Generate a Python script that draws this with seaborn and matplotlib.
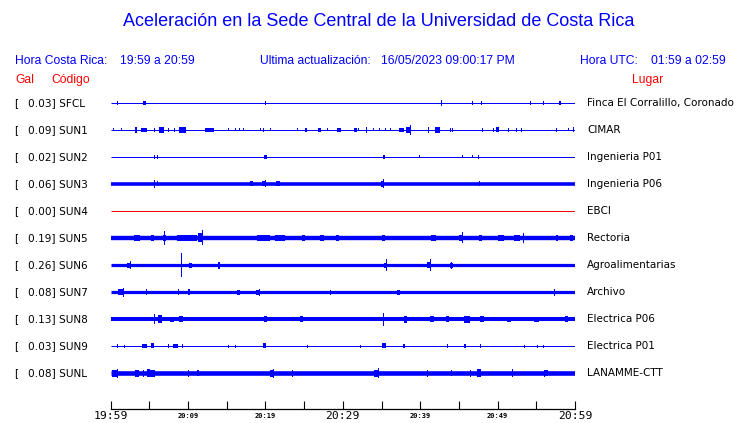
import numpy as np
import pandas as pd
import matplotlib
matplotlib.use("Agg")
import matplotlib.pyplot as plt
import seaborn as sns

# ---------------- data ----------------
codes = ["SFCL", "SUN1", "SUN2", "SUN3", "SUN4", "SUN5", "SUN6", "SUN7", "SUN8", "SUN9", "SUNL"]
gal = [0.03, 0.09, 0.02, 0.06, 0.00, 0.19, 0.26, 0.08, 0.13, 0.03, 0.08]
places = ["Finca El Corralillo, Coronado", "CIMAR", "Ingenieria P01", "Ingenieria P06", "EBCI",
          "Rectoria", "Agroalimentarias", "Archivo", "Electrica P06", "Electrica P01", "LANAMME-CTT"]
trace_colors = ["#0000ff"] * 4 + ["#ff0000"] + ["#0000ff"] * 6

# continuous noise band half-width (pixels) per station
band = [0.5, 0.5, 0.5, 1.8, 0.5, 2.2, 1.6, 1.6, 2.0, 0.5, 2.3]

# bursts: (minute after 19:59, half amplitude in px, duration in minutes; 0 = single spike)
ev_SFCL = [(0.9, 2, 0), (4.4, 2, 0.4), (20.0, 2, 0), (42.7, 3, 0), (46.8, 2, 0), (47.9, 2, 0.2),
           (54.3, 2, 0), (55.9, 2, 0), (58.1, 2, 0.3)]
ev_SUN1 = [(0.3, 1.5, 0), (1.4, 1.5, 0), (3.3, 3, 0.3), (4.3, 2, 0.8), (5.7, 2, 0), (6.6, 3, 0.6),
           (7.5, 2, 0), (8.2, 2, 0), (9.0, 2, 0), (9.3, 3, 0.9), (12.8, 2, 1.2), (15.2, 1.5, 0),
           (16.1, 1.5, 0), (16.6, 1.5, 0), (17.2, 1.5, 0), (19.3, 1.5, 0), (19.8, 2, 0), (20.6, 1.5, 0),
           (24.1, 1.5, 0), (25.2, 2, 0.3), (27.0, 2, 0.3), (28.0, 1.5, 0), (29.5, 2, 0.5), (31.6, 2, 0.4),
           (32.0, 1.5, 0), (33.1, 3, 0), (34.0, 1.5, 0), (34.8, 1.5, 0), (35.5, 1.5, 0), (36.1, 1.5, 0),
           (37.6, 2, 0.6), (38.7, 5, 0), (38.5, 3, 0.7), (41.1, 3, 0), (42.2, 3, 0.7), (43.9, 2, 0),
           (44.2, 2, 0), (48.0, 2, 0), (49.5, 2, 0), (50.0, 2.5, 0.4), (51.4, 2, 0), (52.5, 2, 0),
           (53.1, 2, 0), (57.6, 2, 0), (59.1, 1.5, 0), (59.8, 2.5, 0)]
ev_SUN2 = [(5.7, 2, 0), (6.1, 2, 0), (20.0, 2, 0.3), (35.3, 2, 0.3), (39.9, 1.5, 0), (45.5, 1.5, 0),
           (46.7, 1.5, 0), (47.5, 2, 0)]
ev_SUN3 = [(5.6, 4, 0), (6.1, 2.5, 0), (18.2, 2.5, 0.5), (20.0, 3.5, 0), (19.8, 2.5, 0.4),
           (21.6, 2.5, 0.5), (35.3, 4.5, 0), (35.1, 3, 0.4), (47.7, 2.5, 0)]
ev_SUN4 = []
ev_SUN5 = [(3.4, 3.2, 0.8), (5.4, 3.2, 0.4), (7.0, 7, 0), (6.9, 3.2, 0.4), (9.9, 3.2, 2.6),
           (11.8, 7.5, 0), (11.6, 4.5, 0.6), (19.8, 3.2, 1.7), (21.9, 3, 1.3), (24.9, 3, 0.3),
           (27.3, 3.2, 0.4), (29.3, 3, 0.3), (35.3, 3, 0.4), (41.7, 3.2, 0.6), (45.5, 5.5, 0),
           (45.3, 3.2, 0.5), (47.8, 3.2, 0.3), (50.4, 3.2, 0.8), (53.3, 5, 0), (52.5, 3.2, 0.8),
           (57.7, 3, 0.3), (59.6, 3, 0.4)]
ev_SUN6 = [(2.6, 4, 0), (2.4, 2.5, 0.5), (9.2, 11.5, 0), (10.3, 2.5, 0.3), (14.0, 3.5, 0.3),
           (35.7, 6, 0), (35.5, 2.5, 0.4), (41.3, 6, 0), (41.1, 3, 0.5), (44.1, 3.5, 0), (44.0, 2.5, 0.4)]
ev_SUN7 = [(1.7, 4.5, 0), (1.3, 3, 0.8), (4.6, 3, 0), (8.8, 3, 0), (10.1, 3, 0.3), (16.5, 2.5, 0.4),
           (19.2, 3.5, 0), (19.0, 2.5, 0.5), (28.4, 2.5, 0), (37.2, 2.5, 0.3), (57.3, 3.5, 0)]
ev_SUN8 = [(5.6, 5, 0), (6.4, 4, 0.5), (7.9, 2.5, 0.6), (9.1, 3, 0.6), (20.0, 3, 0.4), (24.7, 3, 0.4),
           (35.2, 6.5, 0), (38.1, 3.5, 0.3), (41.5, 3, 0.6), (43.5, 3, 0.4), (46.0, 3.5, 0.8),
           (48.0, 3, 0.5), (51.5, 2.5, 0.5), (55.0, 2.5, 0.6), (58.9, 3, 0.5)]
ev_SUN9 = [(0.9, 2, 0), (1.8, 1.5, 0), (4.4, 2, 0.6), (5.4, 2.5, 0.5), (7.5, 2, 0), (8.4, 2, 0.6),
           (9.3, 2, 0), (15.2, 1.5, 0), (16.1, 1.5, 0), (19.9, 2.5, 0.4), (25.4, 1.5, 0), (32.3, 1.5, 0),
           (35.3, 2.5, 0.5), (37.9, 2, 0.2), (43.5, 2, 0), (45.8, 2, 0.3), (47.8, 2, 0), (53.5, 1.5, 0),
           (55.2, 1.5, 0), (55.9, 1.5, 0)]
ev_SUNL = [(0.9, 4.5, 0), (0.6, 3.5, 0.8), (3.4, 3.5, 0.4), (4.3, 3.5, 0), (4.9, 4, 0.4),
           (5.3, 3.5, 0.8), (10.1, 3.5, 0), (11.3, 3, 0.3), (21.1, 4.5, 0), (20.8, 3.5, 0.5),
           (23.5, 3.5, 0), (34.6, 5, 0), (34.3, 3.5, 0.6), (40.9, 3.5, 0), (44.1, 3, 0), (46.5, 3.5, 0),
           (47.6, 4, 0.6), (51.9, 4, 0), (56.0, 3.5, 0), (56.3, 3, 0.3)]
events = [ev_SFCL, ev_SUN1, ev_SUN2, ev_SUN3, ev_SUN4, ev_SUN5, ev_SUN6, ev_SUN7, ev_SUN8, ev_SUN9, ev_SUNL]

tick_minutes = [0, 5, 10, 15, 20, 25, 30, 35, 40, 45, 50, 55, 60]
tick_labels = ["19:59", "", "20:09", "", "20:19", "", "20:29", "", "20:39", "", "20:49", "", "20:59"]
big_labels = ["19:59", "20:29", "20:59"]

title = "Aceleración en la Sede Central de la Universidad de Costa Rica"

# ---------------- figure ----------------
sns.set_theme(style="white")
plt.rcParams["font.family"] = ["DejaVu Sans"]
W, H = 740, 423
fig = plt.figure(figsize=(W / 100, H / 100), dpi=100)

def fx(px):
    return px / W

def fy(py):
    return 1 - py / H

ax_left, ax_right, ax_top, ax_bottom = 110.7, 575.0, 90.0, 409.0
ax = fig.add_axes([fx(ax_left), fy(ax_bottom), fx(ax_right - ax_left), (ax_bottom - ax_top) / H])

row0, rowstep = 103.0, 27.0  # pixel row positions
px = 1.0 / rowstep          # one pixel in row units
min_per_px = 60.0 / (ax_right - ax_left)

for i, code in enumerate(codes):
    col = trace_colors[i]
    df = pd.DataFrame({"t": [0.0, 60.0], "y": [float(i), float(i)]})
    lw = max(2 * band[i], 1.0) * 0.72
    sns.lineplot(data=df, x="t", y="y", ax=ax, color=col, linewidth=lw, solid_capstyle="butt")
    ev = events[i]
    if ev:
        t = np.array([e[0] for e in ev])
        a = np.array([e[1] for e in ev]) * px
        d = np.array([max(e[2], min_per_px) for e in ev])
        ax.bar(t, 2 * a, bottom=i - a, width=d, align="center", color=col, linewidth=0)

ax.set_xlim(0, 60)
ax.set_ylim((ax_bottom - row0) / rowstep, (ax_top - row0) / rowstep)
ax.set_yticks([])
ax.set_ylabel("")
ax.set_xlabel("")
for s in ["left", "top", "right"]:
    ax.spines[s].set_visible(False)
ax.spines["bottom"].set_color("black")
ax.spines["bottom"].set_linewidth(0.9)
ax.set_xticks(tick_minutes)
ax.set_xticklabels(tick_labels)
ax.tick_params(axis="x", direction="in", length=5.8, width=0.8, color="black", pad=1.5, bottom=True)
for lab in ax.get_xticklabels():
    if lab.get_text() in big_labels:
        lab.set_fontfamily("DejaVu Sans Mono")
        lab.set_fontsize(8.2)
    else:
        lab.set_fontfamily("DejaVu Sans Mono")
        lab.set_fontsize(5.0)
        lab.set_fontweight("bold")
        lab.set_y(-0.006)
    lab.set_color("black")
ax.patch.set_alpha(0)

# ---------------- texts ----------------
blue = "#0000ff"
red = "#ff0000"
fig.text(fx(379), fy(22), title, ha="center", va="center", color=blue,
         fontsize=13.0, family="Liberation Sans")
hf = dict(va="center", color=blue, fontsize=8.7, family="Liberation Sans")
fig.text(fx(15), fy(61), "Hora Costa Rica:", ha="left", **hf)
fig.text(fx(120), fy(61), "19:59 a 20:59", ha="left", **hf)
fig.text(fx(260), fy(61), "Ultima actualización:", ha="left", **hf)
fig.text(fx(381), fy(61), "16/05/2023 09:00:17 PM", ha="left", **hf)
fig.text(fx(580), fy(61), "Hora UTC:", ha="left", **hf)
fig.text(fx(651), fy(61), "01:59 a 02:59", ha="left", **hf)
rf = dict(va="center", color=red, fontsize=8.7, family="Liberation Sans")
fig.text(fx(15), fy(80), "Gal", ha="left", **rf)
fig.text(fx(51), fy(80), "Código", ha="left", **rf)
fig.text(fx(632), fy(80), "Lugar", ha="left", **rf)

for i, code in enumerate(codes):
    yy = fy(row0 + rowstep * i)
    fig.text(fx(14), yy, "[", ha="left", va="center", fontsize=7.6, color="black")
    fig.text(fx(27.5), yy, f"{gal[i]:.2f}] {code}", ha="left", va="center", fontsize=7.6, color="black")
    fig.text(fx(587), yy, places[i], ha="left", va="center", fontsize=7.45, color="black")

fig.savefig("out.png", dpi=100, facecolor="white")
